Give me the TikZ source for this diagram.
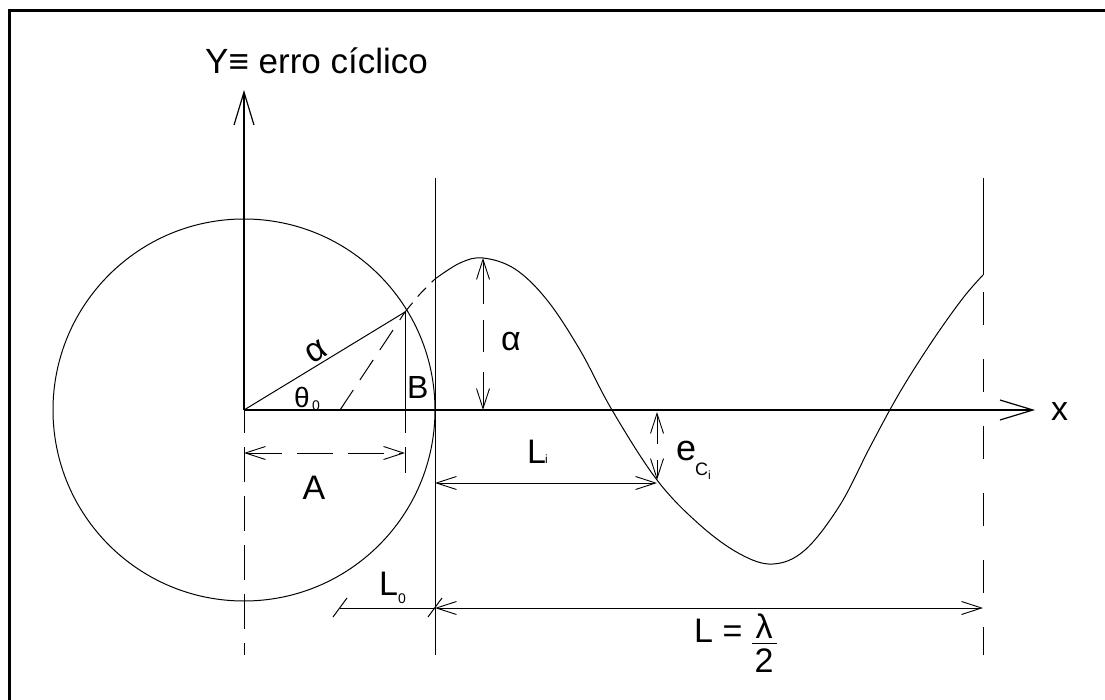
\documentclass[tikz,border=0pt]{standalone}
\usepackage{fontspec}
\setmainfont{Liberation Sans}
\usetikzlibrary{arrows.meta,calc}
\begin{document}
\begin{tikzpicture}[x=1pt,y=-1pt,
  thin line/.style={line width=1pt},
  dimarrows/.style={line width=0.9pt,{Straight Barb[length=20pt,width=13pt]}-{Straight Barb[length=20pt,width=13pt]}},
  axisarrow/.style={line width=1.2pt,-{Straight Barb[length=33pt,width=20pt]}},
  lbl/.style={inner sep=0pt,font=\fontsize{34}{40}\selectfont},
  sublbl/.style={inner sep=0pt,font=\fontsize{14}{16}\selectfont},
]
\useasboundingbox (0,0) rectangle (1105,700);
\draw[line width=3pt] (1120,11) -- (9,11) -- (9,720);

% key points
\coordinate (O) at (244,410);
\coordinate (P) at (405,312);
\coordinate (Ytip) at (244,90);
\coordinate (Xtip) at (1035,410);
\coordinate (Ybot) at (244,655);
\coordinate (T1) at (435,178);
\coordinate (T2) at (435,655);
\coordinate (R1) at (983,178);
\coordinate (Rc) at (983,275);
\coordinate (R2) at (983,655);
\coordinate (D) at (340,410);
\coordinate (Pb) at (405,433);
\coordinate (Pe1) at (405,447);
\coordinate (Pe2) at (405,473);
\coordinate (Pk) at (483,258);
\coordinate (Pk0) at (483,410);
\coordinate (C) at (657,480);
\coordinate (C0) at (657,412);
\coordinate (Li0) at (435,483);
\coordinate (Li1) at (657,483);
\coordinate (A0) at (244,453);
\coordinate (A1) at (405,453);
\coordinate (L0s) at (340,608);
\coordinate (L0e) at (435,608);
\coordinate (Le) at (983,608);

% axes
\draw[axisarrow] (O) -- (Ytip);
\draw[axisarrow] (O) -- (Xtip);
\draw[thin line,dash pattern=on 35pt off 14pt,dash phase=12pt] (O) -- (Ybot);

% circle and construction
\draw[thin line] (O) circle[radius=191];
\draw[thin line] (O) -- (P);
\draw[thin line] (P) -- (Pb);
\draw[thin line] (Pe1) -- (Pe2);
\draw[thin line,dash pattern=on 24pt off 12pt] (D) -- (P);

% vertical lines
\draw[thin line] (T1) -- (T2);
\draw[thin line] (R1) -- (Rc);
\draw[thin line,dash pattern=on 0pt off 17pt on 33pt off 17pt] (Rc) -- (R2);

% sine curve
\draw[thin line,dash pattern=on 12pt off 8pt] plot[smooth] coordinates {(405,312) (420,294) (435,279)};
\draw[thin line] plot[smooth,tension=0.6] coordinates {(435,279) (460,263) (483,258) (515,269) (547,300) (580,350) (612,410) (657,480) (700,525) (740,554) (773,564) (805,550) (840,505) (870,447) (900,392) (933,340) (963,298) (983,275)};

% dimensions
\draw[dimarrows,dash pattern=on 36pt off 15pt] (A0) -- (A1);
\draw[dimarrows,dash pattern=on 44pt off 16pt on 32pt off 20pt] (Pk) -- (Pk0);
\draw[dimarrows,dash pattern=on 30pt off 16pt] (C0) -- (C);
\draw[dimarrows] (Li0) -- (Li1);
\draw[dimarrows] (L0e) -- (Le);
\draw[thin line] (L0s) -- (L0e);
\draw[thin line] ($(L0s)+(-7,9)$) -- ($(L0s)+(7,-10)$);
\draw[thin line] ($(L0e)+(-7,9)$) -- ($(L0e)+(7,-10)$);

% labels
\node[lbl,anchor=base west,font=\fontsize{35}{40}\selectfont] (ylab) at (205,74) {Y≡ erro cíclico};
\node[lbl,anchor=base west] (xlab) at (1051,420) {x};
\node[lbl,anchor=base west] (alab) at (501,350) {α};
\node[lbl,rotate=31] (rlab) at (316,352) {α};
\node[lbl,font=\fontsize{28}{32}\selectfont] (th) at (302,397) {θ};
\node[sublbl,anchor=base west] (th0) at (312,410) {0};
\node[lbl,anchor=base west,font=\fontsize{32}{36}\selectfont] (blab) at (407,398) {B};
\node[lbl,anchor=base] (alab2) at (314,499) {A};
\node[lbl,anchor=base west] (li) at (527,463) {L};
\node[sublbl,anchor=base west,font=\fontsize{12}{14}\selectfont] (lii) at (545,463) {i};
\node[lbl,anchor=base west,font=\fontsize{36}{40}\selectfont] (ec) at (676,460) {e};
\node[sublbl,anchor=base west,font=\fontsize{18}{20}\selectfont] (ecc) at (695,475) {C};
\node[sublbl,anchor=base west,font=\fontsize{12}{14}\selectfont] (eci) at (708,479) {i};
\node[lbl,anchor=base west] (l0) at (379,595) {L};
\node[sublbl,anchor=base west] (l00) at (398,603) {0};
\node[lbl,anchor=base west] (leq) at (694,642) {L =};
\node[lbl,anchor=base] (lam) at (764,638) {λ};
\draw[thin line] (752,643) -- (777,643);
\node[lbl,anchor=base] (two) at (764,672) {2};
\end{tikzpicture}
\end{document}
